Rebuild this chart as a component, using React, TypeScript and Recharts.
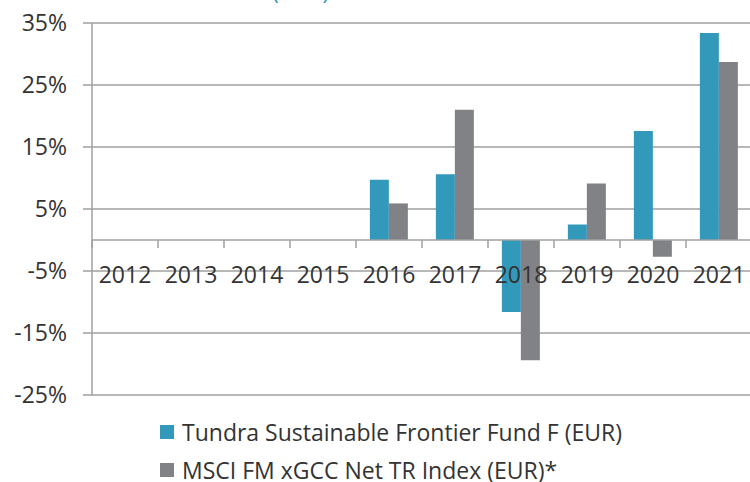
import React from 'react'
import { Bar, BarChart, CartesianGrid, Legend, ReferenceLine, XAxis, YAxis } from 'recharts'

const years = ['2012', '2013', '2014', '2015', '2016', '2017', '2018', '2019', '2020', '2021']
const fundReturns = [null, null, null, null, 9.7, 10.6, -11.6, 2.5, 17.6, 33.4]
const indexReturns = [null, null, null, null, 5.9, 21.0, -19.4, 9.1, -2.7, 28.7]
const yTicks = [-25, -15, -5, 5, 15, 25, 35]

const FUND_NAME = 'Tundra Sustainable Frontier Fund F (EUR)'
const INDEX_NAME = 'MSCI FM xGCC Net TR Index (EUR)*'
const TEAL = '#3399bb'
const GREY = '#808285'
const LINE = '#a0a0a0'
const TEXT = '#333'
const FONT = '"Open Sans", sans-serif'

const W = 752
const H = 482
const TOP = 23
const PLOT_H = 372
const Y_MIN = -25
const Y_MAX = 35
const ZERO_Y = TOP + (PLOT_H * Y_MAX) / (Y_MAX - Y_MIN)
const BAND = (W - 92) / years.length

const data = years.map((year, i) => ({
  year,
  fund: fundReturns[i],
  index: indexReturns[i],
}))

const YearTick = (props: any) => {
  const { x, index, payload } = props
  return (
    <g>
      <line x1={x - BAND / 2} x2={x - BAND / 2} y1={ZERO_Y} y2={ZERO_Y + 8} stroke={LINE} strokeWidth={1.5} />
      {index === years.length - 1 && (
        <line x1={x + BAND / 2} x2={x + BAND / 2} y1={ZERO_Y} y2={ZERO_Y + 8} stroke={LINE} strokeWidth={1.5} />
      )}
      <text x={x} y={ZERO_Y + 34} textAnchor="middle" dominantBaseline="central" fill={TEXT} fontSize={23} fontFamily={FONT}>
        {payload.value}
      </text>
    </g>
  )
}

const LegendBox = () => (
  <div style={{ fontFamily: FONT, fontSize: 23, color: TEXT, lineHeight: '24px' }}>
    {[
      { name: FUND_NAME, color: TEAL },
      { name: INDEX_NAME, color: GREY },
    ].map((item) => (
      <div key={item.name} style={{ display: 'flex', alignItems: 'center', height: 38 }}>
        <span style={{ width: 14, height: 14, background: item.color, marginRight: 8 }} />
        <span>{item.name}</span>
      </div>
    ))}
  </div>
)

export default function App() {
  return (
    <div style={{ position: 'relative', width: 750, height: H, overflow: 'hidden', background: '#fff' }}>
      <style>{'body{margin:0}'}</style>
      <div style={{ position: 'absolute', top: -21, left: 272, color: TEAL, fontFamily: FONT, fontSize: 23, lineHeight: '23px' }}>
        (EUR)
      </div>
      <BarChart width={W} height={H} data={data} margin={{ top: TOP, right: 0, left: 0, bottom: H - TOP - PLOT_H - 1 }} barCategoryGap="21%" barGap={0}>
        <CartesianGrid horizontal vertical={false} stroke={LINE} strokeWidth={1.5} />
        <YAxis
          domain={[Y_MIN, Y_MAX]}
          ticks={yTicks}
          width={92}
          tickFormatter={(v: number) => `${v}%`}
          axisLine={{ stroke: LINE, strokeWidth: 1.5 }}
          tickLine={{ stroke: LINE, strokeWidth: 1.5 }}
          tickSize={9}
          tickMargin={16}
          tick={{ fill: TEXT, fontSize: 23, fontFamily: FONT }}
          interval={0}
        />
        <Bar dataKey="fund" name={FUND_NAME} fill={TEAL} isAnimationActive={false} />
        <Bar dataKey="index" name={INDEX_NAME} fill={GREY} isAnimationActive={false} />
        <ReferenceLine y={0} stroke={LINE} strokeWidth={1.5} />
        <XAxis dataKey="year" height={1} axisLine={false} tickLine={false} tick={<YearTick />} interval={0} />
        <Legend layout="vertical" align="center" verticalAlign="middle" content={<LegendBox />} wrapperStyle={{ top: 413, left: 160, width: 580 }} />
      </BarChart>
    </div>
  )
}
